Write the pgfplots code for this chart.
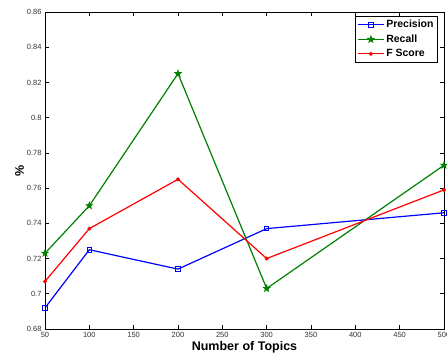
\documentclass[border=0pt]{standalone}
\usepackage{pgfplots}
\pgfplotsset{compat=1.18}
\usepackage{fontspec}
\setmainfont{Liberation Sans}
\usetikzlibrary{calc}
\definecolor{mgreen}{rgb}{0,0.5,0}
\pgfdeclareplotmark{pentastar}{%
  \pgfpathmoveto{\pgfqpointpolar{90}{\pgfplotmarksize}}%
  \pgfpathlineto{\pgfqpointpolar{126}{0.4\pgfplotmarksize}}%
  \pgfpathlineto{\pgfqpointpolar{162}{\pgfplotmarksize}}%
  \pgfpathlineto{\pgfqpointpolar{198}{0.4\pgfplotmarksize}}%
  \pgfpathlineto{\pgfqpointpolar{234}{\pgfplotmarksize}}%
  \pgfpathlineto{\pgfqpointpolar{270}{0.4\pgfplotmarksize}}%
  \pgfpathlineto{\pgfqpointpolar{306}{\pgfplotmarksize}}%
  \pgfpathlineto{\pgfqpointpolar{342}{0.4\pgfplotmarksize}}%
  \pgfpathlineto{\pgfqpointpolar{18}{\pgfplotmarksize}}%
  \pgfpathlineto{\pgfqpointpolar{54}{0.4\pgfplotmarksize}}%
  \pgfpathclose
  \pgfusepathqfillstroke}
\begin{document}
\begin{tikzpicture}
\begin{axis}[
  scale only axis,
  width=399pt, height=317pt,
  xmin=50, xmax=500, ymin=0.68, ymax=0.86,
  xtick={50,100,...,500},
  ytick={0.68,0.70,...,0.86},
  tick align=inside,
  tick pos=both,
  major tick length=4pt,
  axis line style={line width=0.9pt},
  every tick/.style={black, line width=0.6pt},
  /pgf/number format/assume math mode=true,
  /pgf/number format/fixed,
  /pgf/number format/precision=2,
  tick label style={font=\fontsize{7.5}{9}\selectfont, text=black!80},
  xlabel={\textbf{Number of Topics}},
  ylabel={\textbf{\%}},
  xlabel style={font=\fontsize{12.5}{14}\selectfont, yshift=3pt},
  ylabel style={font=\fontsize{12.5}{14}\selectfont, yshift=-4pt},
  legend style={at={(0.985,0.988)}, anchor=north east, font=\fontsize{10.5}{12}\selectfont\bfseries, draw=black, line width=0.9pt, inner sep=2pt, row sep=1.5pt, cells={anchor=west}},
  legend image code/.code={\draw[mark repeat=2,mark phase=2,#1] plot coordinates {(0cm,0cm) (0.45cm,0cm) (0.9cm,0cm)};},
  legend cell align=left,
  clip=false,
]
\addplot[blue, line width=1.2pt, mark=square, mark size=2.3pt, mark options={solid, line width=1pt}] coordinates {(50,0.692) (100,0.725) (200,0.714) (300,0.737) (500,0.746)};
\addlegendentry{Precision}
\addplot[mgreen, line width=1.2pt, mark=pentastar, mark size=3.6pt, mark options={solid, line width=0.6pt, fill=mgreen}] coordinates {(50,0.723) (100,0.750) (200,0.825) (300,0.703) (500,0.773)};
\addlegendentry{Recall}
\addplot[red, line width=1.2pt, mark=*, mark size=1.3pt] coordinates {(50,0.707) (100,0.737) (200,0.765) (300,0.720) (500,0.759)};
\addlegendentry{F Score}
\end{axis}
\pgfresetboundingbox
\path[use as bounding box] ($(current axis.south west)+(-45pt,-29pt)$) rectangle ($(current axis.north east)+(3pt,12pt)$);
\end{tikzpicture}
\end{document}
